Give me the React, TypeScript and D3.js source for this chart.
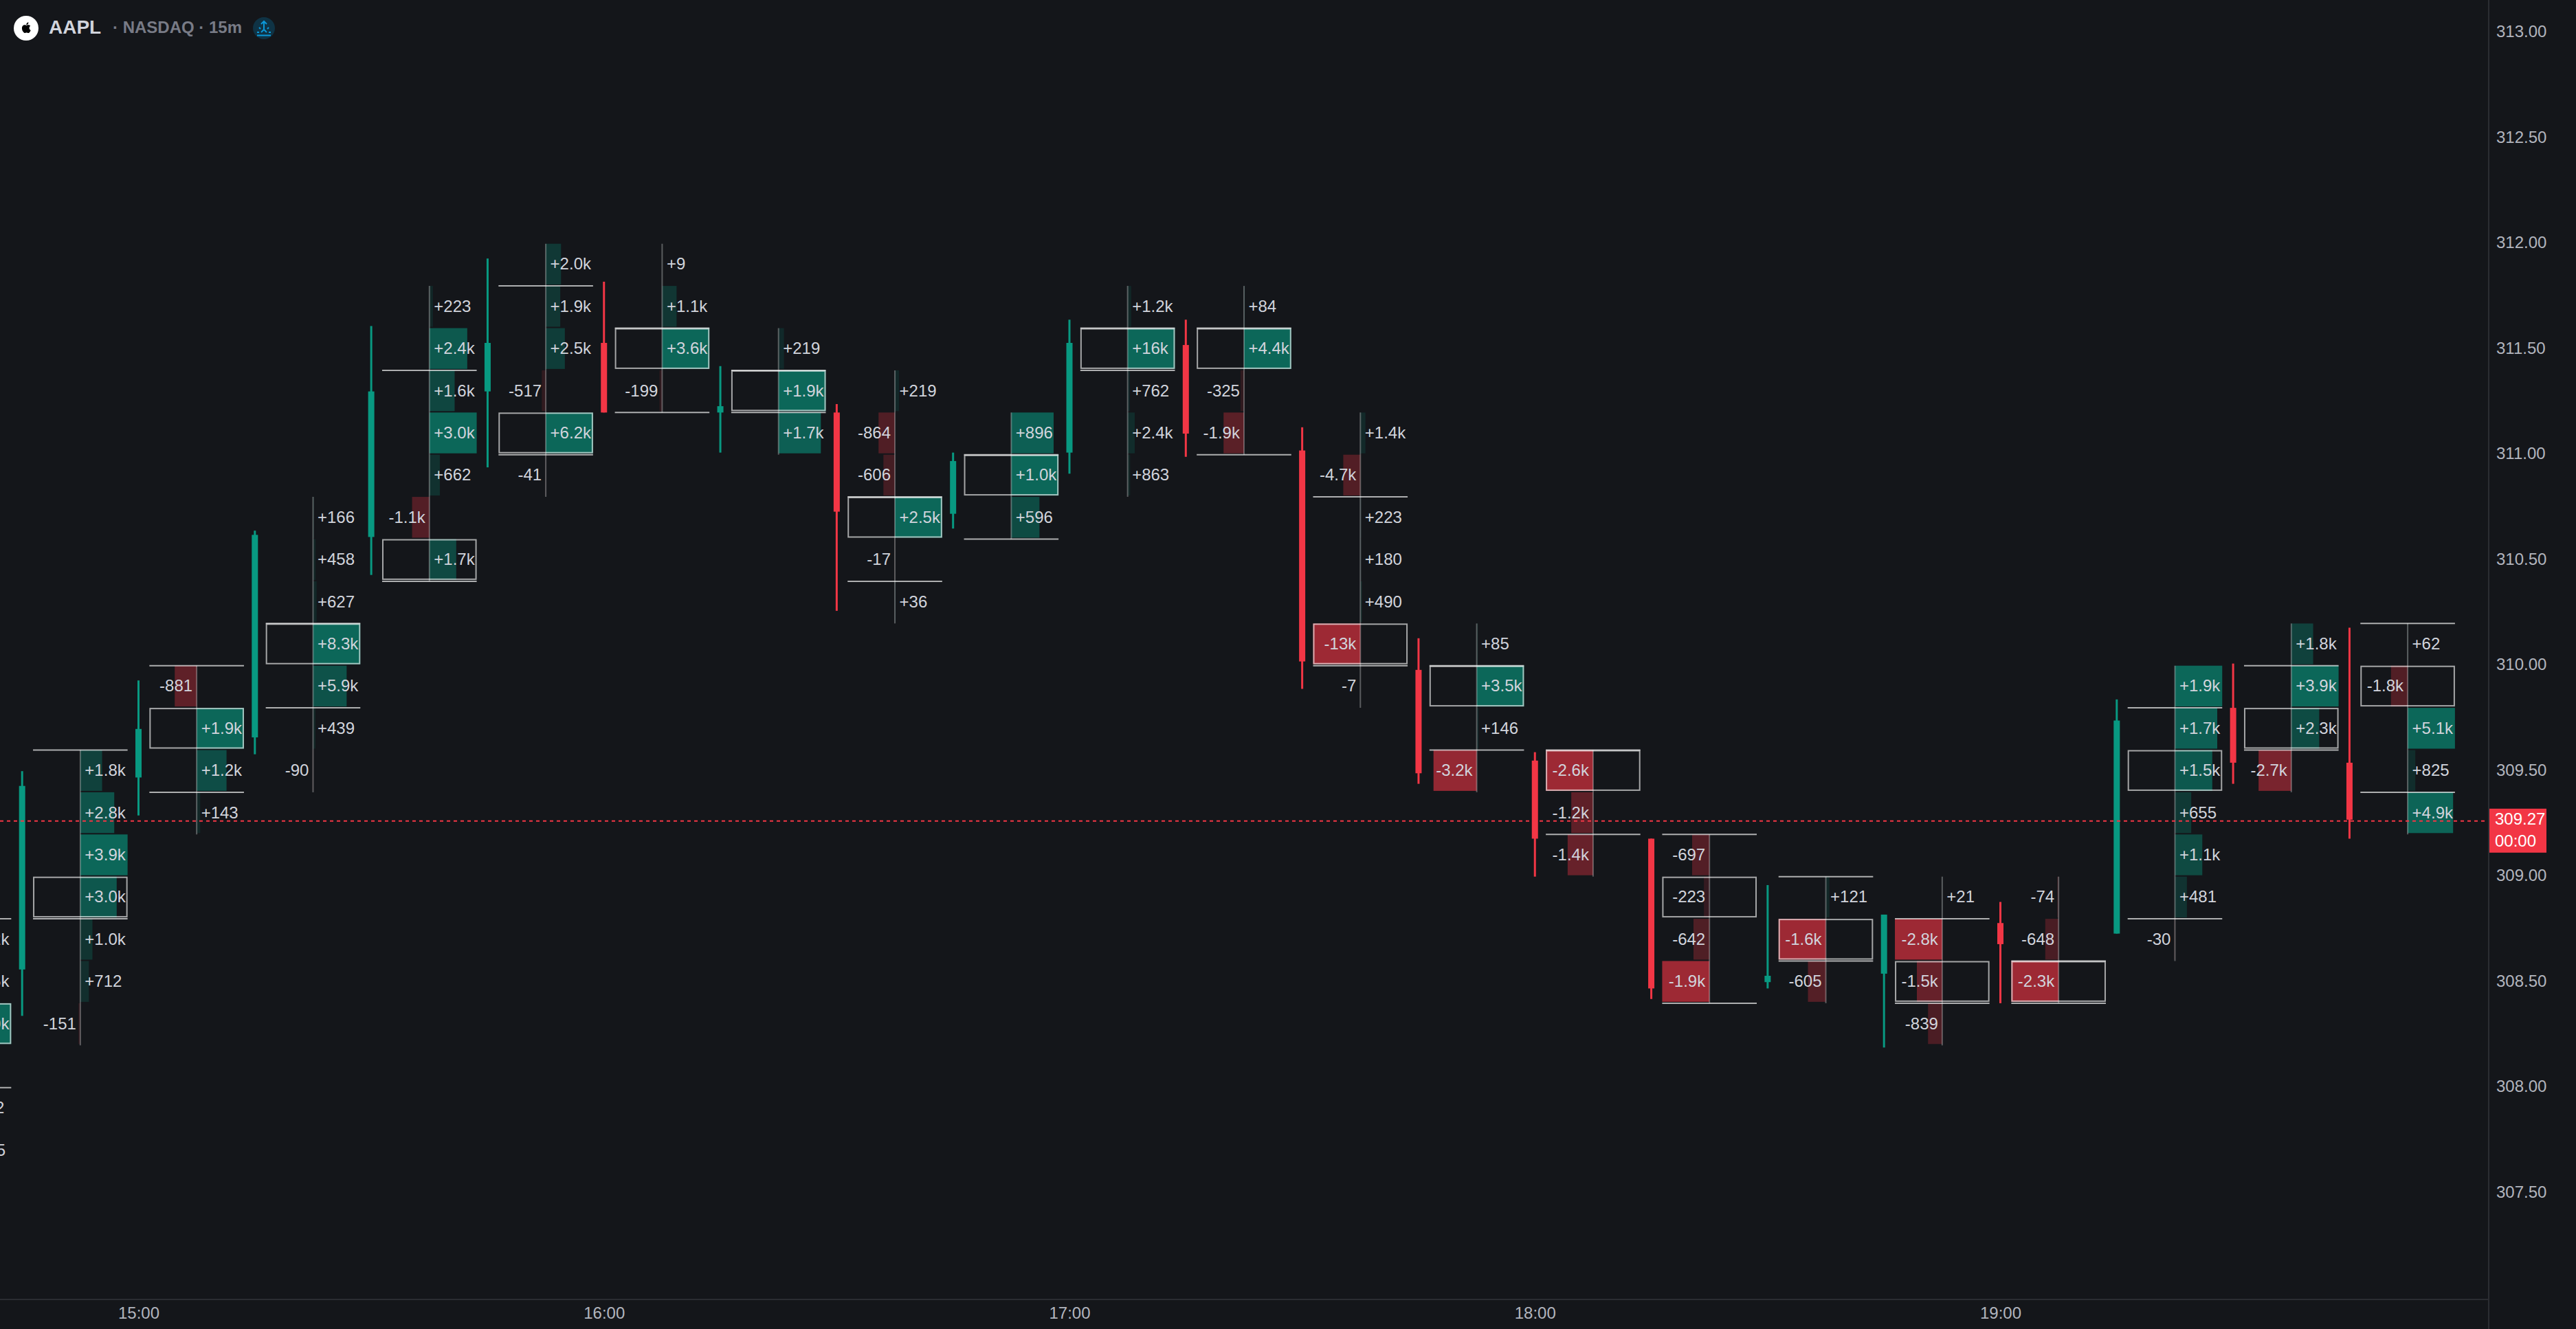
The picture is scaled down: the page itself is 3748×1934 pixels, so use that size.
import { useEffect, useRef } from "react";
import * as d3 from "d3";

const W = 3748;
const H = 1934;

const priceTicks = [307.5, 308, 308.5, 309, 309.5, 310, 310.5, 311, 311.5, 312, 312.5, 313];
const timeTicks = ["15:00", "16:00", "17:00", "18:00", "19:00"];

// 15m candles
const candleTimes = [
  "14:45", "15:00", "15:15", "15:30", "15:45", "16:00", "16:15", "16:30", "16:45", "17:00", "17:15",
  "17:30", "17:45", "18:00", "18:15", "18:30", "18:45", "19:00", "19:15", "19:30", "19:45",
];
const opens = [308.56, 309.47, 309.66, 310.61, 311.3, 311.53, 311.2, 311.2, 310.72, 311.01, 311.52, 311.02, 309.98, 309.55, 309.18, 308.5, 308.54, 308.78, 308.73, 309.8, 309.54];
const highs = [309.5, 309.93, 310.64, 311.61, 311.93, 311.82, 311.42, 311.24, 311.01, 311.64, 311.64, 311.13, 310.13, 309.59, 309.18, 308.96, 308.82, 308.88, 309.84, 310.01, 310.18];
const lows = [308.34, 309.29, 309.58, 310.43, 310.94, 311.2, 311.01, 310.26, 310.65, 310.91, 310.99, 309.89, 309.44, 309.0, 308.42, 308.47, 308.19, 308.4, 308.73, 309.44, 309.18];
const closes = [309.43, 309.7, 310.62, 311.3, 311.53, 311.2, 311.23, 310.73, 310.97, 311.53, 311.1, 310.02, 309.49, 309.18, 308.47, 308.53, 308.82, 308.68, 309.74, 309.54, 309.27];

// footprint rows, listed top down from rowStart, one row = 0.20
const footprintTimes = ["14:30", ...candleTimes];
const rowStart = [308.8, 309.6, 310.0, 310.8, 311.8, 312.0, 312.0, 311.6, 311.4, 311.2, 311.8, 311.8, 311.2, 310.2, 309.6, 309.2, 309.0, 309.0, 309.0, 310.0, 310.2, 310.2];
const rowDeltas = [
  [1200, 1500, 4000, -45, 112, 105],
  [1800, 2800, 3900, 3000, 1000, 712, -151],
  [-881, 1900, 1200, 143],
  [166, 458, 627, 8300, 5900, 439, -90],
  [223, 2400, 1600, 3000, 662, -1100, 1700],
  [2000, 1900, 2500, -517, 6200, -41],
  [9, 1100, 3600, -199],
  [219, 1900, 1700],
  [219, -864, -606, 2500, -17, 36],
  [896, 1000, 596],
  [1200, 16000, 762, 2400, 863],
  [84, 4400, -325, -1900],
  [1400, -4700, 223, 180, 490, -13000, -7],
  [85, 3500, 146, -3200],
  [-2600, -1200, -1400],
  [-697, -223, -642, -1900],
  [121, -1600, -605],
  [21, -2800, -1500, -839],
  [-74, -648, -2300],
  [1900, 1700, 1500, 655, 1100, 481, -30],
  [1800, 3900, 2300, -2700],
  [62, -1800, 5100, 825, 4900],
];
const pocPrice = [308.4, 309.0, 309.8, 310.2, 310.6, 311.2, 311.6, 311.4, 310.8, 311.0, 311.6, 311.6, 310.2, 310.0, 309.6, 309.0, 308.8, 308.6, 308.6, 309.6, 309.8, 310.0];
const vahPrice = [308.8, 309.6, 310.0, 310.2, 311.4, 311.8, 311.6, 311.4, 310.8, 311.0, 311.6, 311.6, 310.8, 310.0, 309.6, 309.2, 309.0, 308.8, 308.6, 309.8, 310.0, 310.2];
const valPrice = [308.0, 308.8, 309.4, 309.8, 310.4, 311.0, 311.2, 311.2, 310.4, 310.6, 311.4, 311.0, 310.0, 309.6, 309.2, 308.4, 308.6, 308.4, 308.4, 308.8, 309.6, 309.4];

const lastPrice = 309.27;
const countdown = "00:00";

const GREEN = "#089981";
const RED = "#f23645";
const BG = "#14161a";
const AXIS_LINE = "#2b2d32";
const FONT = '"Liberation Sans", Arial, sans-serif';
const APPLE =
  "M12.152 6.896c-.948 0-2.415-1.078-3.96-1.04-2.04.027-3.91 1.183-4.961 3.014-2.117 3.675-.546 9.103 1.519 12.09 1.013 1.454 2.208 3.09 3.792 3.039 1.52-.065 2.09-.987 3.935-.987 1.831 0 2.35.987 3.96.948 1.637-.026 2.676-1.48 3.676-2.948 1.156-1.688 1.636-3.325 1.662-3.415-.039-.013-3.182-1.221-3.22-4.857-.026-3.04 2.48-4.494 2.597-4.559-1.429-2.09-3.623-2.324-4.39-2.376-2-.156-3.675 1.09-4.61 1.09zM15.53 3.83c.843-1.012 1.4-2.427 1.245-3.83-1.207.052-2.662.805-3.532 1.818-.78.896-1.454 2.338-1.273 3.714 1.338.104 2.715-.688 3.559-1.701";

const formatDelta = (v: number) => {
  const a = Math.abs(v);
  const s = v < 0 ? "-" : "+";
  if (a >= 10000) return `${s}${Math.round(a / 1000)}k`;
  if (a >= 1000) return `${s}${(a / 1000).toFixed(1)}k`;
  return `${s}${a}`;
};

const App = () => {
  const svgRef = useRef<SVGSVGElement>(null);

  useEffect(() => {
    const svg = d3.select(svgRef.current);
    svg.selectAll("*").remove();

    const plotRight = 3621;
    const plotBottom = 1891;
    const parseTime = d3.utcParse("%H:%M");

    const x = d3
      .scaleUtc()
      .domain([parseTime("15:00"), parseTime("19:00")])
      .range([201.5, 2910.5]);
    const y = d3
      .scaleLinear()
      .domain([310, 313])
      .range([968.7, 968.7 - 3 * 307]);

    const slot = x(parseTime("15:15")) - x(parseTime("15:00"));
    const halfWidth = 68.8;
    const rowHeight = y(0) - y(0.2);

    svg.append("rect").attr("width", W).attr("height", H).attr("fill", BG);

    // Eixos
    const yAxis = svg
      .append("g")
      .attr("transform", `translate(${plotRight},0)`)
      .call(
        d3
          .axisRight(y)
          .tickValues(priceTicks)
          .tickFormat(d3.format(".2f"))
          .tickSize(0)
          .tickPadding(11)
      );
    yAxis.select(".domain").remove();
    yAxis
      .selectAll("text")
      .attr("font-family", FONT)
      .attr("font-size", 24)
      .attr("fill", "#b2b5be")
      .attr("dy", "0.25em");

    const xAxis = svg
      .append("g")
      .attr("transform", `translate(0,${plotBottom})`)
      .call(
        d3
          .axisBottom(x)
          .tickValues(timeTicks.map((t) => parseTime(t)))
          .tickFormat(d3.utcFormat("%H:%M"))
          .tickSize(0)
          .tickPadding(11)
      );
    xAxis.select(".domain").remove();
    xAxis
      .selectAll("text")
      .attr("font-family", FONT)
      .attr("font-size", 24)
      .attr("fill", "#b2b5be");

    svg
      .append("line")
      .attr("x1", plotRight)
      .attr("x2", plotRight)
      .attr("y1", 0)
      .attr("y2", H)
      .attr("stroke", AXIS_LINE)
      .attr("stroke-width", 2);
    svg
      .append("line")
      .attr("x1", 0)
      .attr("x2", plotRight)
      .attr("y1", plotBottom)
      .attr("y2", plotBottom)
      .attr("stroke", AXIS_LINE)
      .attr("stroke-width", 2);

    // Velas
    const candles = svg.append("g");
    candleTimes.forEach((t, i) => {
      const cx = x(parseTime(t));
      const up = closes[i] >= opens[i];
      const color = up ? GREEN : RED;
      candles
        .append("rect")
        .attr("x", cx - 1.5)
        .attr("width", 3)
        .attr("y", y(highs[i]))
        .attr("height", y(lows[i]) - y(highs[i]))
        .attr("fill", color);
      candles
        .append("rect")
        .attr("x", cx - 4.5)
        .attr("width", 9)
        .attr("y", y(Math.max(opens[i], closes[i])))
        .attr("height", Math.abs(y(opens[i]) - y(closes[i])))
        .attr("fill", color);
    });

    // Footprints
    const prints = svg.append("g");
    footprintTimes.forEach((t, i) => {
      const cx = x(parseTime(t)) + slot / 2;
      const deltas = rowDeltas[i];
      const maxAbs = d3.max(deltas, (d) => Math.abs(d)) as number;
      const g = prints.append("g");
      const rowTop = (r: number) => y(rowStart[i] - r * 0.2);

      deltas.forEach((d, r) => {
        const ratio = Math.abs(d) / maxAbs;
        const w = ratio * halfWidth;
        g.append("rect")
          .attr("x", d < 0 ? cx - w : cx)
          .attr("y", rowTop(r))
          .attr("width", w)
          .attr("height", rowHeight - 2)
          .attr("fill", d < 0 ? RED : GREEN)
          .attr("fill-opacity", 0.09 + 0.53 * ratio);
      });

      g.append("line")
        .attr("x1", cx)
        .attr("x2", cx)
        .attr("y1", rowTop(0))
        .attr("y2", rowTop(deltas.length))
        .attr("stroke", "#ffffff")
        .attr("stroke-opacity", 0.3)
        .attr("stroke-width", 2);

      // POC
      g.append("rect")
        .attr("x", cx - halfWidth + 1)
        .attr("y", y(pocPrice[i]) + 1)
        .attr("width", halfWidth * 2 - 2)
        .attr("height", rowHeight - 4)
        .attr("fill", "none")
        .attr("stroke", "#ffffff")
        .attr("stroke-opacity", 0.62)
        .attr("stroke-width", 2);

      // Value area
      [vahPrice[i], valPrice[i]].forEach((p) => {
        g.append("line")
          .attr("x1", cx - halfWidth)
          .attr("x2", cx + halfWidth)
          .attr("y1", y(p))
          .attr("y2", y(p))
          .attr("stroke", "#ffffff")
          .attr("stroke-opacity", 0.66)
          .attr("stroke-width", 2);
      });

      deltas.forEach((d, r) => {
        g.append("text")
          .attr("x", d < 0 ? cx - 6 : cx + 6.5)
          .attr("y", rowTop(r) + rowHeight / 2 - 1.5)
          .attr("dy", "0.35em")
          .attr("text-anchor", d < 0 ? "end" : "start")
          .attr("font-family", FONT)
          .attr("font-size", 24)
          .attr("fill", "#d1d4dc")
          .text(formatDelta(d));
      });
    });

    // Preço atual
    const lineY = y(lastPrice) + 2;
    svg
      .append("line")
      .attr("x1", 0)
      .attr("x2", plotRight - 4)
      .attr("y1", lineY)
      .attr("y2", lineY)
      .attr("stroke", RED)
      .attr("stroke-width", 2)
      .attr("stroke-dasharray", "5 5");
    const tag = svg.append("g").attr("transform", `translate(${plotRight + 1},${lineY})`);
    tag
      .append("rect")
      .attr("y", -18)
      .attr("width", 83)
      .attr("height", 64)
      .attr("fill", RED);
    [lastPrice.toFixed(2), countdown].forEach((s, i) => {
      tag
        .append("text")
        .attr("x", 8)
        .attr("y", -3 + i * 31.5)
        .attr("dy", "0.35em")
        .attr("font-family", FONT)
        .attr("font-size", 24)
        .attr("fill", "#ffffff")
        .text(s);
    });

    // Cabeçalho
    const head = svg.append("g");
    head.append("circle").attr("cx", 38).attr("cy", 41).attr("r", 18).attr("fill", "#ffffff");
    head
      .append("path")
      .attr("d", APPLE)
      .attr("transform", "translate(30.5,32.5) scale(0.65)")
      .attr("fill", "#000000");
    head
      .append("text")
      .attr("x", 71)
      .attr("y", 49)
      .attr("font-family", FONT)
      .attr("font-size", 28)
      .attr("font-weight", 700)
      .attr("fill", "#d1d4dc")
      .text("AAPL");
    head
      .append("text")
      .attr("x", 164)
      .attr("y", 48)
      .attr("font-family", FONT)
      .attr("font-size", 24)
      .attr("font-weight", 700)
      .attr("fill", "#787b86")
      .text("· NASDAQ · 15m");
    head.append("circle").attr("cx", 384).attr("cy", 41).attr("r", 16).attr("fill", "#0f3345");
    head
      .append("path")
      .attr("d", "M384 42V31M380 35l4-4 4 4M377 40l2 2M391 40l-2 2M380 47l4-4 4 4M374 47h3M391 47h3M374 51.5h20")
      .attr("fill", "none")
      .attr("stroke", "#0b98d8")
      .attr("stroke-width", 2);
  }, []);

  return (
    <svg
      ref={svgRef}
      width={W}
      height={H}
      style={{ position: "absolute", left: 0, top: 0, display: "block" }}
    />
  );
};

export default App;
